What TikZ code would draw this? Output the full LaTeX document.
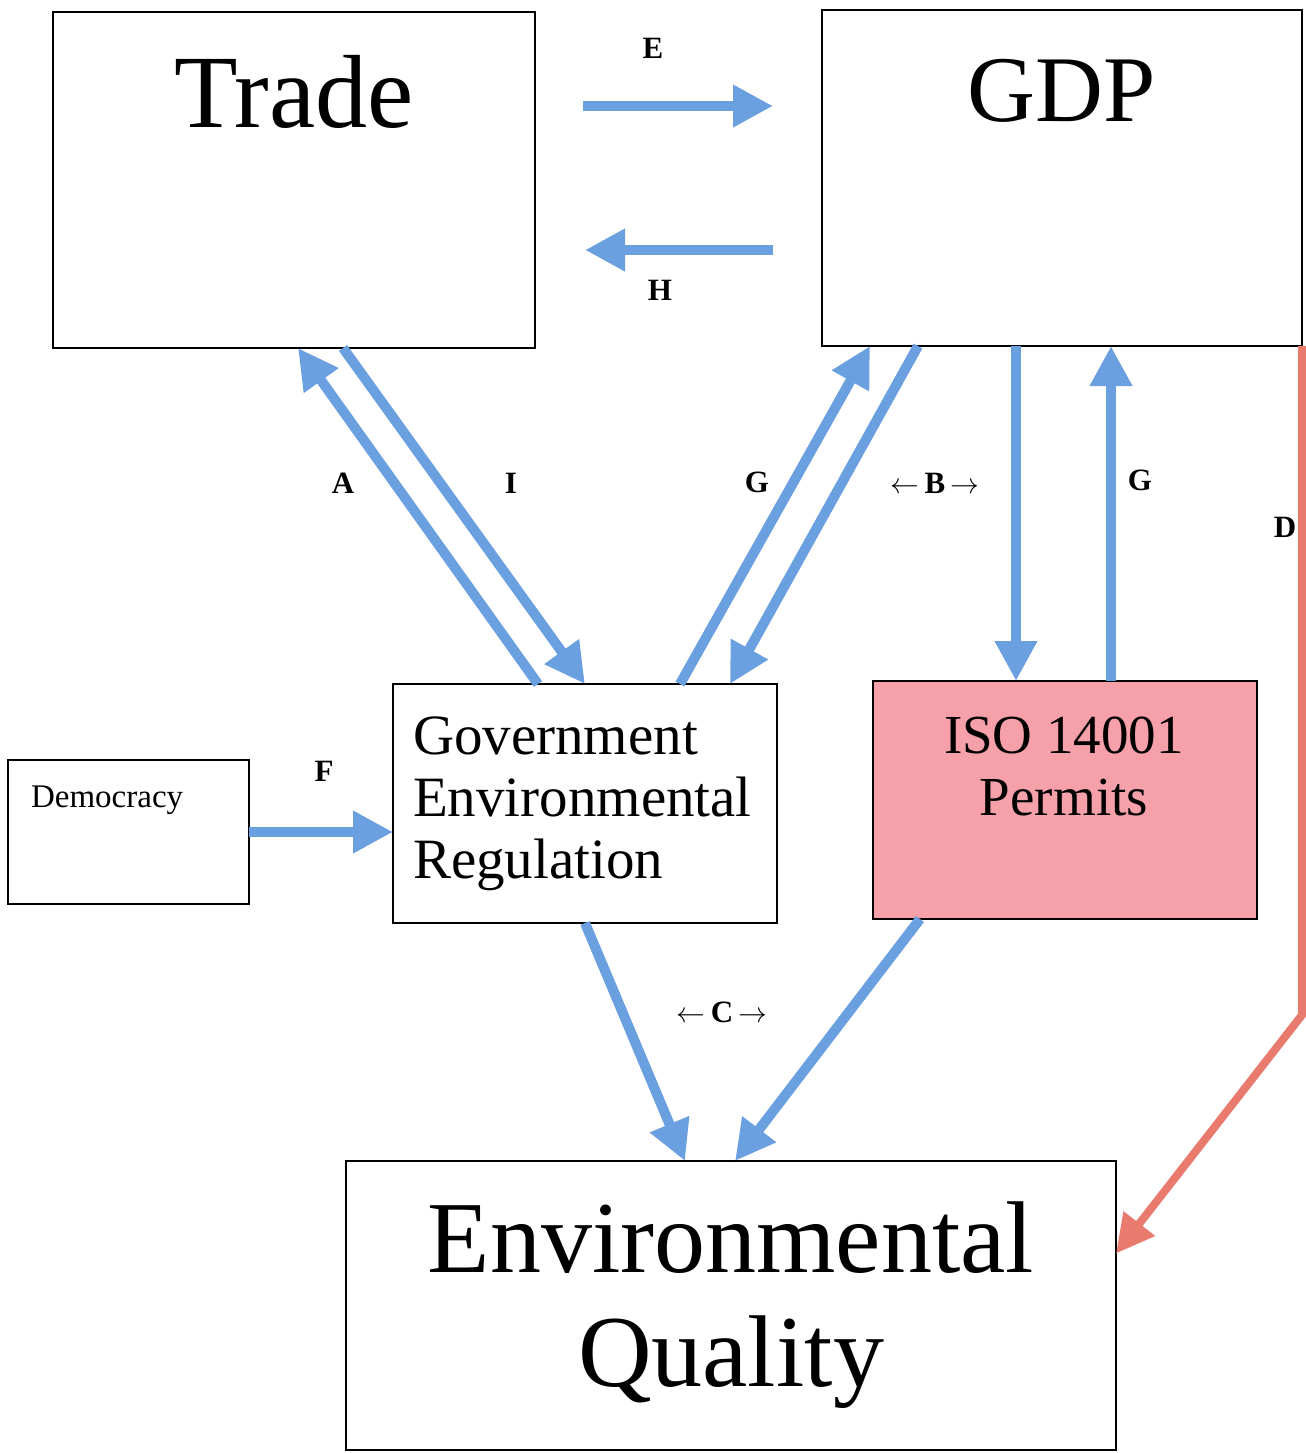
\documentclass[tikz,border=0pt]{standalone}
\usepackage{fontspec}
\setmainfont{Liberation Serif}
\usepackage{tikz}
\usetikzlibrary{arrows.meta}
\definecolor{flowblue}{RGB}{106,159,224}
\definecolor{flowred}{RGB}{232,122,110}
\definecolor{isopink}{RGB}{246,160,170}

\begin{document}
\begin{tikzpicture}[x=0.5pt, y=-0.5pt,
  box/.style={draw, line width=1pt, inner sep=0pt, outer sep=0pt},
  bigtxt/.style={font=\fontsize{52}{60}\selectfont},
  midtxt/.style={font=\fontsize{28.5}{31}\selectfont},
  lbl/.style={font=\fontsize{15.5}{18}\selectfont\bfseries},
  arr/.style={-{Triangle[length=20pt, width=20pt]}, line width=5pt, flowblue},
  redarr/.style={-{Triangle[length=19pt, width=19pt]}, line width=4pt, flowred, line join=miter}]
\useasboundingbox (0,0) rectangle (1306,1453);
% boxes
\node[box, minimum width=241pt, minimum height=168pt] (trade) at (294,180) {};
\node[box, minimum width=240pt, minimum height=168pt] (gdp) at (1062,178) {};
\node[box, minimum width=120.5pt, minimum height=72pt] (demo) at (128.5,832) {};
\node[box, minimum width=192pt, minimum height=119.5pt, text width=172pt,
      inner xsep=10pt, align=left, midtxt] (gov) at (585,803.5)
  {Government\\Environmental\\Regulation};
\node[box, fill=isopink, minimum width=192pt, minimum height=119pt] (iso) at (1065,800) {};
\node[box, minimum width=385pt, minimum height=144.5pt, align=center,
      font=\fontsize{51}{57}\selectfont] (envq) at (731,1305.5)
  {Environmental\\Quality};
% box texts
\node[bigtxt] (tradetxt) at (294,92) {Trade};
\node[font=\fontsize{47}{56}\selectfont] (gdptxt) at (1062,91) {GDP};
\node[anchor=west, font=\fontsize{16.5}{19}\selectfont] (demotxt) at (24,800) {Democracy};
\node[font=\fontsize{27.5}{31}\selectfont, align=center] (isotxt) at (1064,766) {ISO 14001\\Permits};
% connectors
\draw[arr, shorten <=24pt, shorten >=24.5pt] ([yshift=-47pt]trade.north east)
  -- ([yshift=-47pt]trade.north east -| gdp.west);
\draw[arr, shorten <=24.5pt, shorten >=25pt] ([yshift=-119pt]trade.north east -| gdp.west)
  -- ([yshift=-119pt]trade.north east);
\draw[arr] ([xshift=72.5pt]gov.north west) -- ([xshift=122.5pt]trade.south west);
\draw[arr] ([xshift=145pt]trade.south west) -- ([xshift=96pt]gov.north west);
\draw[arr] ([xshift=143.5pt]gov.north west) -- ([xshift=24pt]gdp.south west);
\draw[arr] ([xshift=48pt]gdp.south west) -- ([xshift=168.5pt]gov.north west);
\draw[arr] ([xshift=97pt]gdp.south west) -- ([xshift=97pt]gdp.south west |- iso.north);
\draw[arr] ([xshift=119pt]iso.north west) -- ([xshift=119pt]iso.north west |- gdp.south);
\draw[arr] (demo.east) -- (demo.east -| gov.west);
\draw[arr] ([xshift=96pt]gov.south west) -- ([xshift=169.5pt]envq.north west);
\draw[arr] ([xshift=23.5pt]iso.south west) -- ([xshift=194.5pt]envq.north west);
\draw[redarr] (gdp.south east) -- ++(0,669) -- ([yshift=26pt]envq.east);
% labels
\node[lbl] (le) at (653,48) {E};
\node[lbl] (lh) at (660,290) {H};
\node[lbl] (la) at (343,483) {A};
\node[lbl] (li) at (511,483) {I};
\node[lbl] (lg) at (757,482) {G};
\node[lbl] (lb) at (935,483) {$\leftarrow$\,B\,$\rightarrow$};
\node[lbl] (lg2) at (1140,480) {G};
\node[lbl] (ld) at (1285,527) {D};
\node[lbl] (lf) at (324,771) {F};
\node[lbl] (lc) at (722,1012) {$\leftarrow$\,C\,$\rightarrow$};
\end{tikzpicture}
\end{document}
